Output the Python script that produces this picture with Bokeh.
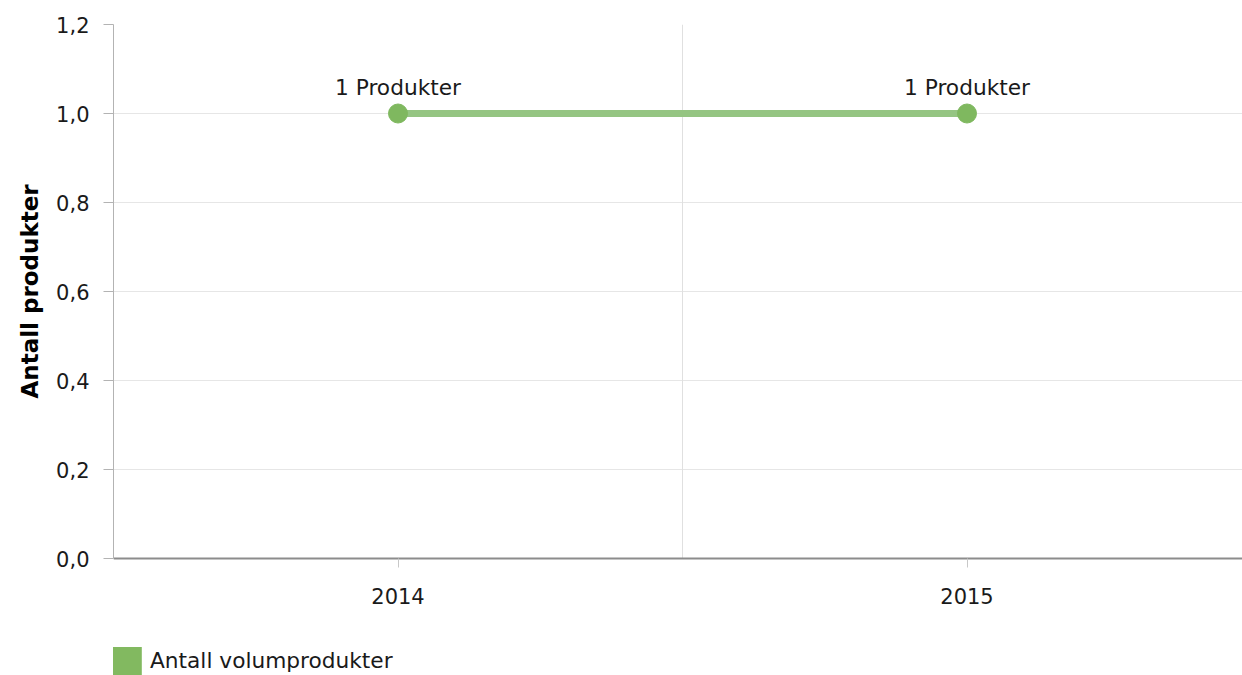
from bokeh.plotting import figure
from bokeh.models import (ColumnDataSource, Range1d, FixedTicker, CustomJSTickFormatter,
                          Legend, LegendItem, Title)
from bokeh.core.properties import value
from bokeh.embed import file_html
from bokeh.resources import INLINE

# ---- data ----
years = ["2014", "2015"]
values = [1, 1]
yticks = [0.0, 0.2, 0.4, 0.6, 0.8, 1.0, 1.2]
series_name = "Antall volumprodukter"
y_title = "Antall produkter"
unit = "Produkter"

FONT = "DejaVu Sans"
xs = list(range(len(years)))
labels = [f"{v} {unit}" for v in values]

W, H = 1242, 675
LEFT, TOP, ZERO_Y = 113, 24, 558
ppu = (ZERO_Y - TOP) / (yticks[-1] - yticks[0])      # pixels per y unit
y_start = -(H - ZERO_Y) / ppu                        # room below the zero line
p = figure(width=W, height=H, output_backend="svg", toolbar_location=None,
           x_range=Range1d(-0.5, -0.5 + (W - LEFT) / 569.0),
           y_range=Range1d(y_start, yticks[-1]),
           min_border_left=LEFT, min_border_right=0, min_border_top=TOP, min_border_bottom=0)
p.outline_line_color = None
p.background_fill_color = "white"

# category separator line (between 2014 and 2015)
seps = [i + 0.5 for i in range(len(years) - 1)]
p.segment(x0=seps, y0=[yticks[0]] * len(seps), x1=seps, y1=[yticks[-1]] * len(seps),
          line_color="#e0e0e0", line_width=1)

src = ColumnDataSource(dict(x=xs, y=values, label=labels))
p.line("x", "y", source=src, line_color="#95c582", line_width=7)
p.scatter("x", "y", source=src, size=19, fill_color="#7fb85f", line_color="#7fb85f")
p.text("x", "y", text="label", source=src, text_align="center", text_baseline="alphabetic",
       y_offset=-26, text_font=value(FONT), text_font_size="21.7px", text_color="#1a1a1a")

# legend proxy (square swatch), zero-area so it draws nothing in the plot
dummy = p.quad(left=[xs[0]], right=[xs[0]], top=[0], bottom=[0],
               fill_color="#82b960", line_color=None)
legend = Legend(items=[LegendItem(label=series_name, renderers=[dummy], index=0)],
                location=(-5, -3), orientation="horizontal",
                glyph_width=37, glyph_height=35, label_standoff=5,
                label_text_font=FONT, label_text_font_size="21.7px", label_text_color="#1a1a1a",
                padding=0, margin=0, spacing=0, border_line_color=None,
                background_fill_alpha=0)
p.add_layout(legend)

# y axis
p.yaxis.bounds = (yticks[0], yticks[-1])
p.yaxis.ticker = FixedTicker(ticks=yticks)
p.yaxis.formatter = CustomJSTickFormatter(code="return tick.toFixed(1).replace('.', ',');")
p.yaxis.major_tick_out = 10
p.yaxis.major_tick_in = 0
p.yaxis.minor_tick_line_color = None
p.yaxis.axis_line_color = "#b3b3b3"
p.yaxis.major_tick_line_color = "#b3b3b3"
p.yaxis.major_label_text_font = FONT
p.yaxis.major_label_text_font_size = "21px"
p.yaxis.major_label_text_color = "#1a1a1a"
p.yaxis.major_label_standoff = 14

# y title as a side title, placed so it centres on the 0..1.2 span
ytitle = Title(text=y_title, align="left", offset=277,
               text_font=FONT, text_font_size="23px", text_font_style="bold",
               text_color="#000000", standoff=22)
p.add_layout(ytitle, "left")

# x axis, pinned at y = 0
p.xaxis.fixed_location = 0
p.xaxis.ticker = FixedTicker(ticks=xs)
p.xaxis.major_label_overrides = {i: y for i, y in enumerate(years)}
p.xaxis.major_tick_out = 9
p.xaxis.major_tick_in = 0
p.xaxis.minor_tick_line_color = None
p.xaxis.axis_line_color = "#8c8c8c"
p.xaxis.axis_line_width = 2
p.xaxis.major_tick_line_color = "#c8c8c8"
p.xaxis.major_label_text_font = FONT
p.xaxis.major_label_text_font_size = "21px"
p.xaxis.major_label_text_color = "#1a1a1a"
p.xaxis.major_label_standoff = 20

# grids
p.ygrid.ticker = FixedTicker(ticks=yticks)
p.ygrid.grid_line_color = "#e6e6e6"
p.xgrid.visible = False

open("out.html", "w").write(file_html(p, INLINE))
